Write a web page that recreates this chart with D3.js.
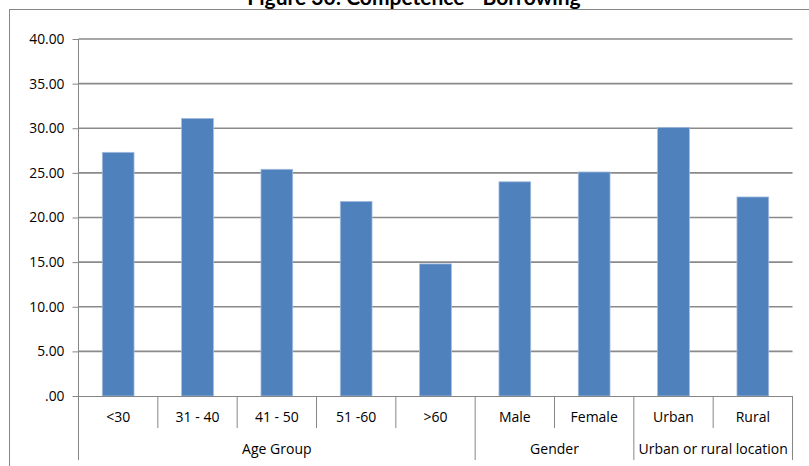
<!DOCTYPE html>
<html>
<head>
<meta charset="utf-8">
<script src="https://cdn.jsdelivr.net/npm/d3@7"></script>
<style>
  html, body { margin: 0; padding: 0; background: #fff; }
  svg text { font-family: "Open Sans", "Liberation Sans", sans-serif; fill: #000; }
</style>
</head>
<body>
<svg id="chart" width="809" height="466"></svg>
<script>
// Categories, values and groupings
const categories = ["<30", "31 - 40", "41 - 50", "51 -60", ">60", "Male", "Female", "Urban", "Rural"];
const values = [27.3, 31.1, 25.4, 21.8, 14.8, 24.0, 25.1, 30.1, 22.3];
const groupNames = ["Age Group", "Gender", "Urban or rural location"];
const groupSizes = [5, 2, 2];
const yTicks = [0, 5, 10, 15, 20, 25, 30, 35, 40];
const titleText = "Figure 30: Competence - Borrowing";

const svg = d3.select("#chart");
const plotLeft = 78.5, plotRight = 792.5, plotTop = 39, plotBottom = 396;
const row1 = 428, row2 = 460;

const x = d3.scaleBand().domain(categories).range([plotLeft, plotRight])
  .paddingInner(0.6).paddingOuter(0.3);
const y = d3.scaleLinear().domain([0, 40]).range([plotBottom, plotTop]);

// Chart frame
svg.append("rect").attr("x", 9.5).attr("y", 9.5).attr("width", 820).attr("height", 480)
  .attr("fill", "#fff").attr("stroke", "#868686").attr("stroke-width", 1);

// Title
svg.append("text").attr("x", 414).attr("y", 5).attr("text-anchor", "middle")
  .style("font-weight", "bold").style("font-size", "21px").style("font-family", "Lato, 'Open Sans', sans-serif")
  .text(titleText);

// Horizontal gridlines
svg.append("g").selectAll("line").data(yTicks.filter(d => d > 0)).join("line")
  .attr("x1", plotLeft).attr("x2", plotRight)
  .attr("y1", d => y(d)).attr("y2", d => y(d))
  .attr("stroke", "#8a8a8a").attr("stroke-width", 1.6);

// Bars
svg.append("g").selectAll("rect").data(values).join("rect")
  .attr("x", (d, i) => x(categories[i]))
  .attr("y", d => y(d))
  .attr("width", x.bandwidth())
  .attr("height", d => y(0) - y(d))
  .attr("fill", "#4f81bd")
  .attr("stroke", "#a3bbdd").attr("stroke-width", 0.8);

// Y axis
const yAxis = d3.axisLeft(y).tickValues(yTicks).tickSize(6).tickPadding(8)
  .tickFormat(d => d === 0 ? ".00" : d3.format(".2f")(d));
const gy = svg.append("g").attr("transform", `translate(${plotLeft},0)`).call(yAxis);
gy.select(".domain").remove();
gy.selectAll(".tick line").attr("stroke", "#868686");
gy.selectAll(".tick text").style("font-size", "13.8px").style("font-family", "'Open Sans', sans-serif")
  .attr("fill", "#000");
svg.append("line").attr("x1", plotLeft).attr("x2", plotLeft).attr("y1", plotTop).attr("y2", row2)
  .attr("stroke", "#868686");

// X axis baseline
svg.append("line").attr("x1", plotLeft).attr("x2", plotRight).attr("y1", plotBottom + 0.5).attr("y2", plotBottom + 0.5)
  .attr("stroke", "#868686").attr("stroke-width", 1.2);

// Category separators and labels
const step = x.step();
const edge = i => plotLeft + i * step;
const groupEdges = [0];
groupSizes.forEach((s, i) => groupEdges.push(groupEdges[i] + s));
d3.range(1, categories.length).forEach(i => {
  const full = groupEdges.includes(i);
  svg.append("line").attr("x1", edge(i)).attr("x2", edge(i))
    .attr("y1", plotBottom).attr("y2", full ? row2 : row1).attr("stroke", "#868686");
});
svg.append("line").attr("x1", plotRight).attr("x2", plotRight).attr("y1", plotBottom).attr("y2", row2)
  .attr("stroke", "#868686");

svg.append("g").selectAll("text").data(categories).join("text")
  .attr("x", d => x(d) + x.bandwidth() / 2).attr("y", 422)
  .attr("text-anchor", "middle").style("font-size", "14px")
  .text(d => d);

svg.append("g").selectAll("text").data(groupNames).join("text")
  .attr("x", (d, i) => (edge(groupEdges[i]) + edge(groupEdges[i + 1])) / 2).attr("y", 454)
  .attr("text-anchor", "middle").style("font-size", "14px")
  .text(d => d);
</script>
</body>
</html>
